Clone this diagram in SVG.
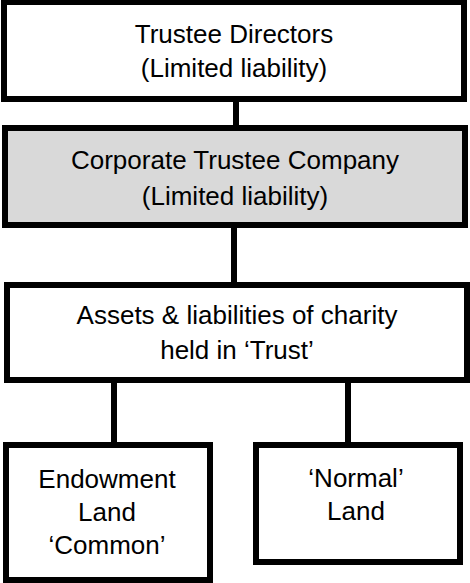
<svg xmlns="http://www.w3.org/2000/svg" width="470" height="583" viewBox="0 0 470 583">
<style>
.box{fill:#ffffff;stroke:#000000;stroke-width:6}
.grey{fill:#d9d9d9}
.conn{stroke:#000000;stroke-width:6;fill:none}
text{font-family:"Liberation Sans",Arial,sans-serif;font-size:26px;fill:#000000;text-anchor:middle}
</style>
<rect width="470" height="583" fill="#ffffff"/>
<g id="connectors">
<line class="conn" x1="236" y1="99" x2="236" y2="128"/>
<line class="conn" x1="234" y1="225" x2="234" y2="285"/>
<line class="conn" x1="114" y1="380" x2="114" y2="445"/>
<line class="conn" x1="348" y1="376" x2="348" y2="445"/>
</g>
<g id="trustee-directors">
<rect class="box" x="4" y="2" width="460" height="97"/>
<text x="234" y="43">Trustee Directors</text>
<text x="234" y="77">(Limited liability)</text>
</g>
<g id="corporate-trustee">
<rect class="box grey" x="5" y="128" width="460" height="97"/>
<text x="235" y="169">Corporate Trustee Company</text>
<text x="235" y="205">(Limited liability)</text>
</g>
<g id="assets">
<rect class="box" x="7" y="285" width="460" height="95"/>
<text x="237" y="324">Assets &amp; liabilities of charity</text>
<text x="237" y="359">held in ‘Trust’</text>
</g>
<g id="endowment-land">
<rect class="box" x="6" y="445" width="204" height="135"/>
<text x="107" y="488">Endowment</text>
<text x="107" y="521">Land</text>
<text x="107" y="554">‘Common’</text>
</g>
<g id="normal-land">
<rect class="box" x="256" y="445" width="204" height="117"/>
<text x="356" y="487">‘Normal’</text>
<text x="356" y="520">Land</text>
</g>
</svg>
